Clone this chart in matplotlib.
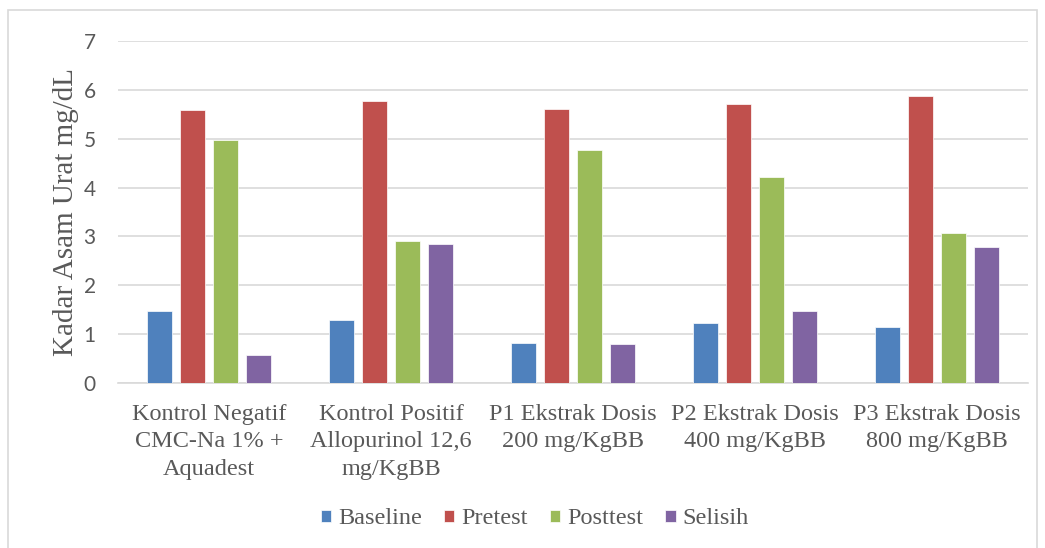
import matplotlib.pyplot as plt
import numpy as np
from matplotlib.patches import Rectangle
from matplotlib.font_manager import FontProperties

plt.rcParams['font.family'] = ['Liberation Serif', 'DejaVu Serif']

groups = ['Kontrol Negatif\nCMC-Na 1% +\nAquadest',
          'Kontrol Positif\nAllopurinol 12,6\nmg/KgBB',
          'P1 Ekstrak Dosis\n200 mg/KgBB',
          'P2 Ekstrak Dosis\n400 mg/KgBB',
          'P3 Ekstrak Dosis\n800 mg/KgBB']
series_names = ['Baseline', 'Pretest', 'Posttest', 'Selisih']
baseline = [1.47, 1.29, 0.81, 1.23, 1.15]
pretest = [5.58, 5.77, 5.60, 5.71, 5.88]
posttest = [4.98, 2.91, 4.77, 4.22, 3.06]
selisih = [0.58, 2.85, 0.79, 1.47, 2.79]
yticks = [0, 1, 2, 3, 4, 5, 6, 7]
colors = ['#4F81BD', '#C0504D', '#9BBB59', '#8064A2']

grey = '#595959'

fig = plt.figure(figsize=(10.45, 5.48), dpi=100)
ax = fig.add_axes([118 / 1045, 1 - 383 / 548, 910 / 1045, 342 / 548])

# outer chart frame
fig.patches.append(Rectangle((8 / 1045, -0.01), 1029 / 1045, 1 - 10 / 548 + 0.01,
                             transform=fig.transFigure, fill=False,
                             edgecolor='#D9D9D9', linewidth=1.2))

x = np.arange(len(groups))
step = 0.181
width = 0.14
for i, (name, vals) in enumerate(zip(series_names, [baseline, pretest, posttest, selisih])):
    ax.bar(x + (i - 1.5) * step, vals, width, color=colors[i], label=name,
           edgecolor='white', linewidth=0.5, zorder=3)

ax.set_xlim(-0.5, len(groups) - 0.5)
ax.set_ylim(0, 7)
ax.grid(axis='y', color='#D9D9D9', linewidth=1.2, zorder=0)
for s in ['top', 'right', 'left']:
    ax.spines[s].set_visible(False)
ax.spines['bottom'].set_color('#D9D9D9')
ax.spines['bottom'].set_linewidth(1.2)
ax.tick_params(length=0)

ax.set_yticks(yticks)
ax.set_yticklabels([str(v) for v in yticks],
                   fontproperties=FontProperties(family='Lato', size=15), color=grey)
ax.tick_params(axis='y', pad=16)

ax.set_xticks(x)
ax.set_xticklabels(groups, fontsize=17.5, color=grey, linespacing=1.4)
ax.tick_params(axis='x', pad=15)

ax.set_ylabel('Kadar Asam Urat mg/dL', fontsize=21, color=grey, labelpad=3)

leg = ax.legend(loc='center', bbox_to_anchor=(535 / 1045, 1 - 519 / 548),
                bbox_transform=fig.transFigure, ncol=4, frameon=False,
                fontsize=17.5, handlelength=0.42, handleheight=0.42,
                handletextpad=0.3, columnspacing=0.9)
for t in leg.get_texts():
    t.set_color(grey)

fig.savefig('out.png', dpi=100)
